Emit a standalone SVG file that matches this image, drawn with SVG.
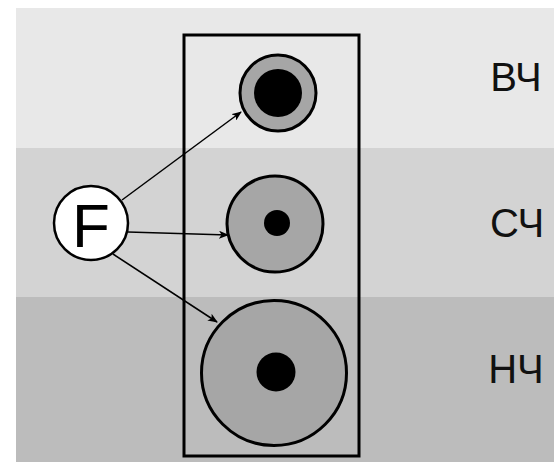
<svg xmlns="http://www.w3.org/2000/svg" width="554" height="462" viewBox="0 0 554 462">
<defs>
<style>
.lbl{font-family:"Liberation Sans",Arial,sans-serif;font-size:40px;fill:#111}
.conn line{stroke:#000;stroke-width:1.5;fill:none}
.ring{fill:#a6a6a6;stroke:#000;stroke-width:3}
.core{fill:#000}
</style>
<marker id="ah" markerWidth="10" markerHeight="8" refX="9" refY="4" orient="auto" markerUnits="userSpaceOnUse">
<path d="M0,0 L10,4 L0,8 L2.5,4 Z" fill="#000"/>
</marker>
</defs>
<rect width="554" height="462" fill="#fff"/>
<g id="bands">
<rect x="16" y="8" width="538" height="140" fill="#e8e8e8"/>
<rect x="16" y="148" width="538" height="149" fill="#d3d3d3"/>
<rect x="16" y="297" width="538" height="165" fill="#bcbcbc"/>
</g>
<g id="frame"><rect x="184" y="35" width="175" height="421" fill="none" stroke="#000" stroke-width="3"/></g>
<g id="hf"><circle class="ring" cx="278" cy="93" r="38"/><circle class="core" cx="278" cy="93" r="24"/></g>
<g id="mf"><circle class="ring" cx="275" cy="224" r="48"/><circle class="core" cx="277" cy="223" r="13"/></g>
<g id="lf"><circle class="ring" cx="274" cy="373" r="72.5"/><circle class="core" cx="276" cy="372" r="19.5"/></g>
<g id="F"><circle cx="91" cy="223" r="37" fill="#fff" stroke="#000" stroke-width="2.5"/><text x="91" y="247" text-anchor="middle" style="font-family:'Liberation Sans',Arial,sans-serif;font-size:62px" fill="#000">F</text></g>
<g class="conn">
<line x1="122" y1="200" x2="241" y2="112" marker-end="url(#ah)"/>
<line x1="128" y1="232" x2="228" y2="235" marker-end="url(#ah)"/>
<line x1="113" y1="254" x2="217" y2="322" marker-end="url(#ah)"/>
</g>
<g id="labels">
<text class="lbl" x="516" y="91" text-anchor="middle">ВЧ</text>
<text class="lbl" x="517" y="237" text-anchor="middle">СЧ</text>
<text class="lbl" x="516" y="383" text-anchor="middle">НЧ</text>
</g>
</svg>
